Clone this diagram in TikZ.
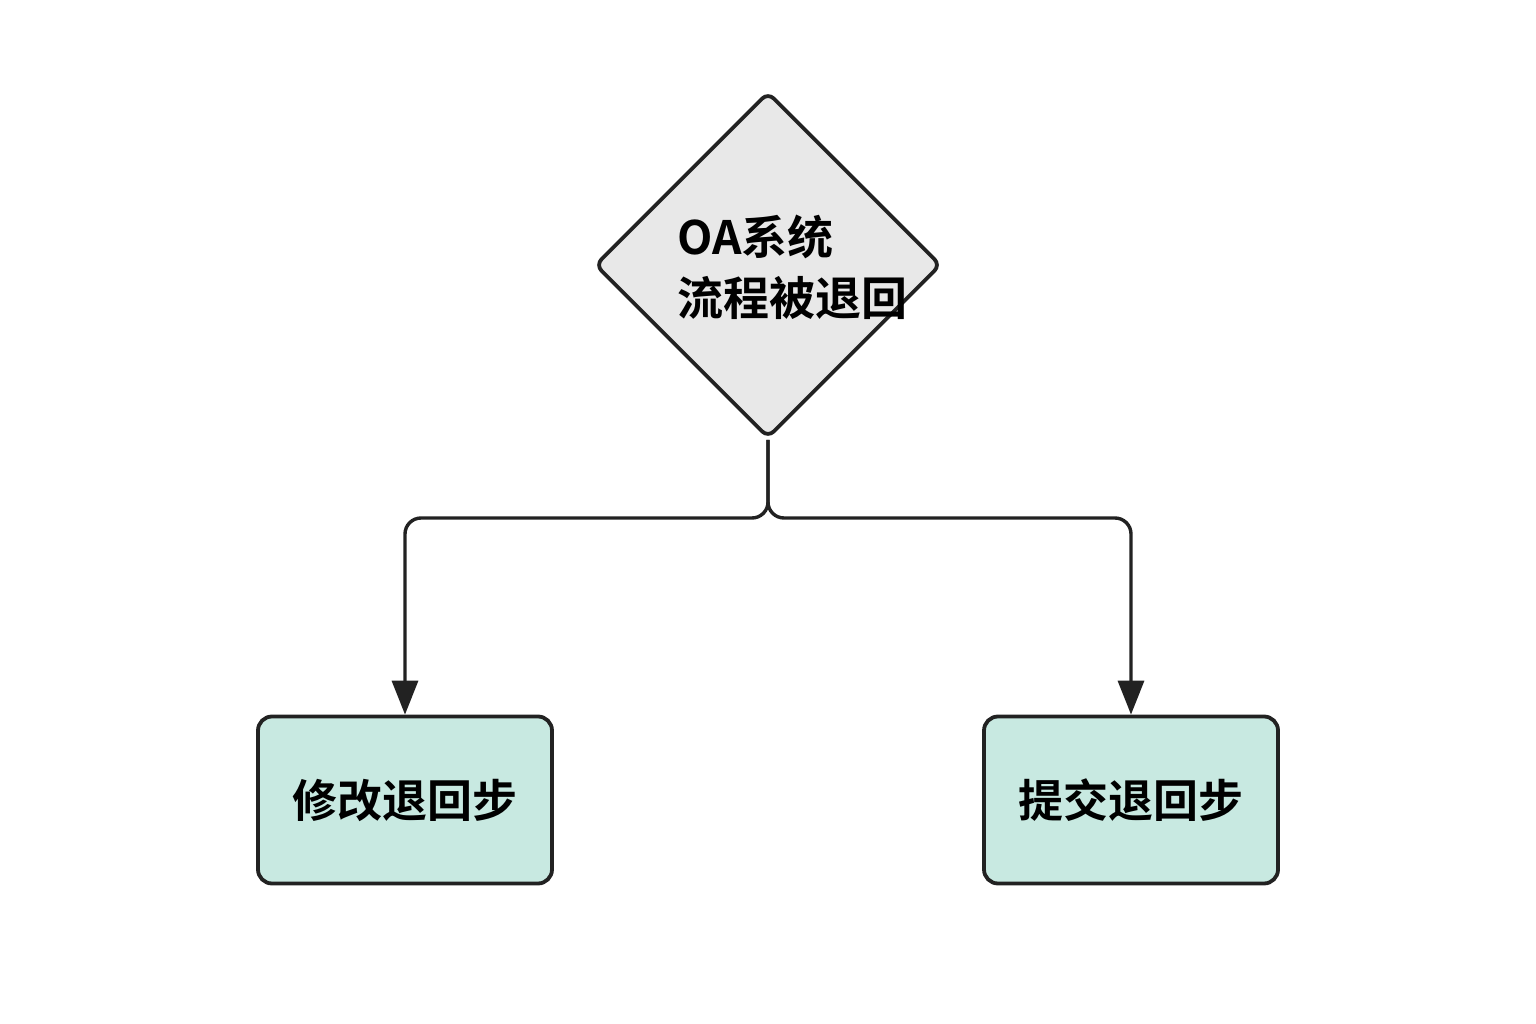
\documentclass[tikz,border=0pt]{standalone}
\usepackage{fontspec}
\setmainfont{Noto Sans CJK SC}
\newfontfamily\cjk{Noto Sans CJK SC}[BoldFont={* Bold}]
\usetikzlibrary{shapes.geometric,arrows.meta}
\definecolor{edgec}{HTML}{222222}
\definecolor{mint}{HTML}{C8E9E1}
\definecolor{grayfill}{HTML}{E8E8E8}
\begin{document}
\begin{tikzpicture}[x=1pt,y=-1pt,
  decision/.style={draw=edgec, fill=grayfill, line width=3.8pt, diamond, minimum width=346pt, minimum height=346pt, rounded corners=8pt, inner sep=0pt},
  stepbox/.style={draw=edgec, fill=mint, line width=3.8pt, rounded corners=14pt, minimum width=294pt, minimum height=167pt, inner sep=0pt, font=\cjk\bfseries\fontsize{45}{54}\selectfont},
  link/.style={draw=edgec, line width=3.4pt, rounded corners=16pt, -{Triangle[length=34pt,width=26pt]}}]
\useasboundingbox (0,0) rectangle (1536,1024);
\fill[white] (0,0) rectangle (1536,1024);
\node[decision] (d) at (768,265) {};
\node[anchor=west, align=left, font=\cjk\bfseries\fontsize{46}{61}\selectfont, inner sep=0pt] (dt) at (677,267) {OA系统\\流程被退回};
\node[stepbox] (a) at (405,800) {修改退回步};
\node[stepbox] (b) at (1131,800) {提交退回步};
\coordinate (j) at (768,518);
\draw[link] (d.south) -- (j) -| (a.north);
\draw[link] (d.south) -- (j) -| (b.north);
\end{tikzpicture}
\end{document}
